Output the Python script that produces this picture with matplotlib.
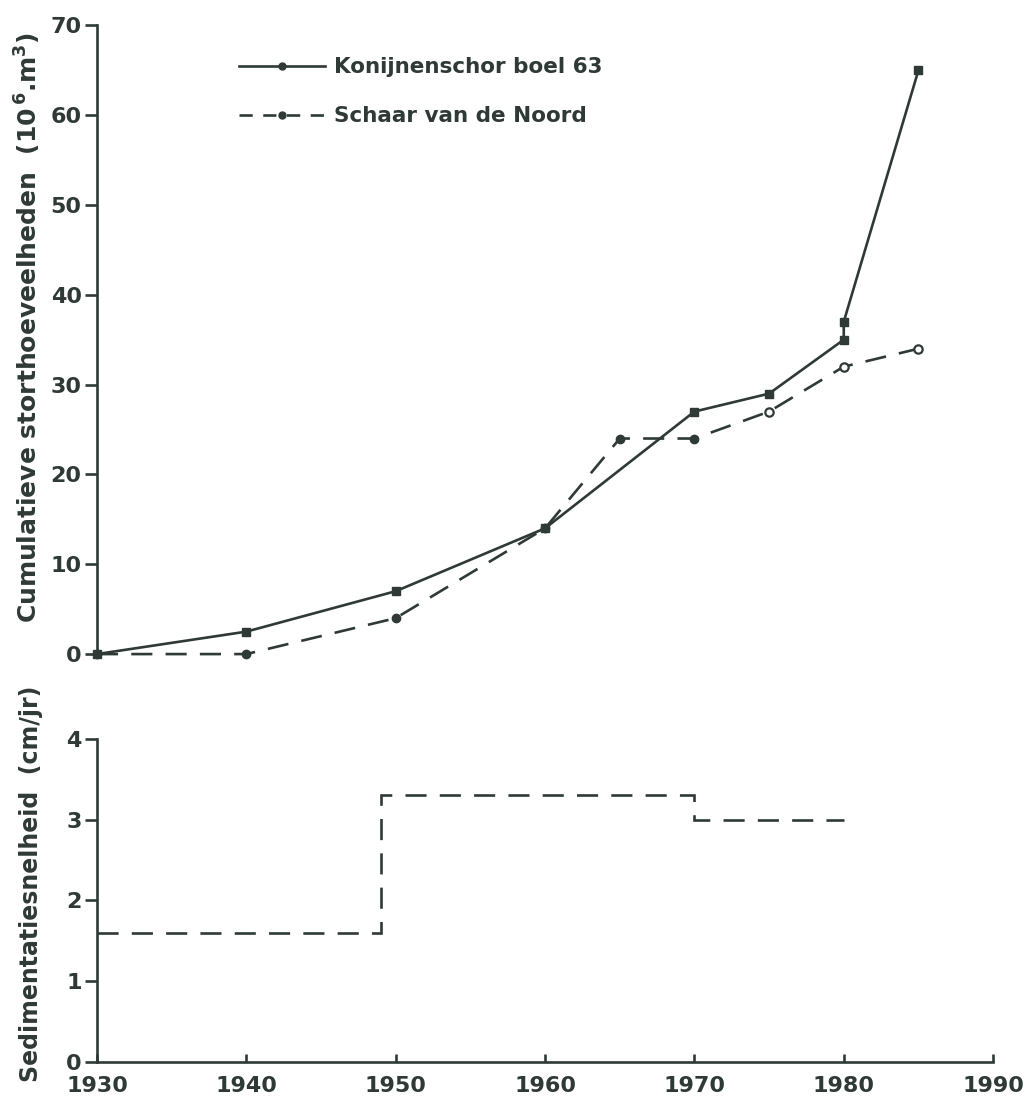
import matplotlib.pyplot as plt
from matplotlib.lines import Line2D

# cumulative dumped volumes (10^6 m3)
years_konijn = [1930, 1940, 1950, 1960, 1970, 1975, 1980, 1980, 1985]
vol_konijn = [0, 2.5, 7, 14, 27, 29, 35, 37, 65]

years_schaar = [1930, 1940, 1950, 1960, 1965, 1970, 1975, 1980, 1985]
vol_schaar = [0, 0, 4, 14, 24, 24, 27, 32, 34]
n_filled = 6  # last points drawn as open circles

# sedimentation rate (cm/jr)
rate_edges = [1930, 1949, 1970, 1980]
rate_values = [1.6, 3.3, 3.0]

x_ticks = [1930, 1940, 1950, 1960, 1970, 1980, 1990]

ink = "#2f3a37"
plt.rcParams["font.family"] = "DejaVu Sans"
plt.rcParams["font.weight"] = "bold"
plt.rcParams["text.color"] = ink
plt.rcParams["axes.labelcolor"] = ink
plt.rcParams["xtick.color"] = ink
plt.rcParams["ytick.color"] = ink

fig = plt.figure(figsize=(10.36, 11.03), dpi=100)
ax1 = fig.add_axes([0.0936, 0.407, 0.865, 0.570])
ax2 = fig.add_axes([0.0936, 0.0372, 0.865, 0.293])

## TOP PANEL ##
ax1.plot(years_konijn, vol_konijn, color=ink, lw=1.9,
         marker="s", markersize=6, clip_on=False)
ax1.plot(years_schaar, vol_schaar, color=ink, lw=1.9,
         linestyle=(0, (8, 5)), clip_on=False)
ax1.plot(years_schaar[:n_filled], vol_schaar[:n_filled], linestyle="none",
         marker="o", markersize=6, color=ink, clip_on=False)
ax1.plot(years_schaar[n_filled:], vol_schaar[n_filled:], linestyle="none",
         marker="o", markersize=6, markerfacecolor="white",
         markeredgecolor=ink, markeredgewidth=1.6, clip_on=False)

ax1.set_xlim(1930, 1990)
ax1.set_ylim(0, 70)
ax1.set_yticks(range(0, 71, 10))
ax1.set_xticks([])
for side in ["top", "right", "bottom"]:
    ax1.spines[side].set_visible(False)
ax1.spines["left"].set_linewidth(1.9)
ax1.spines["left"].set_color(ink)
ax1.tick_params(axis="y", direction="out", length=9, width=1.9,
                labelsize=16, pad=2)
ax1.set_ylabel("Cumulatieve storthoeveelheden  (10$^{\\,6}$.m$^3$)",
               fontsize=18, fontweight="bold")
ax1.yaxis.set_label_coords(-0.06, 0.52)

handles = [
    Line2D([], [], color=ink, lw=1.9, marker="o", markersize=5),
    Line2D([], [], color=ink, lw=1.9, linestyle=(0, (5, 4)),
           marker="o", markersize=5),
]
ax1.legend(handles, ["Konijnenschor boel 63", "Schaar van de Noord"],
           loc="upper left", bbox_to_anchor=(0.137, 0.98), frameon=False,
           fontsize=15.5, handlelength=4.0, handletextpad=0.4,
           labelspacing=1.35)

## BOTTOM PANEL ##
ax2.stairs(rate_values, rate_edges, baseline=None, color=ink, lw=1.9,
           linestyle=(0, (8, 5)))
ax2.set_xlim(1930, 1990)
ax2.set_ylim(0, 4)
ax2.set_xticks(x_ticks)
ax2.set_yticks(range(0, 5))
for side in ["top", "right"]:
    ax2.spines[side].set_visible(False)
for side in ["left", "bottom"]:
    ax2.spines[side].set_linewidth(1.9)
    ax2.spines[side].set_color(ink)
ax2.tick_params(axis="y", direction="out", length=9, width=1.9,
                labelsize=16, pad=2)
ax2.tick_params(axis="x", direction="in", length=6, width=1.9,
                labelsize=16, pad=10)
ax2.set_ylabel("Sedimentatiesnelheid  (cm/jr)", fontsize=17,
               fontweight="bold")
ax2.yaxis.set_label_coords(-0.06, 0.55)

fig.savefig("out.png", dpi=100)
